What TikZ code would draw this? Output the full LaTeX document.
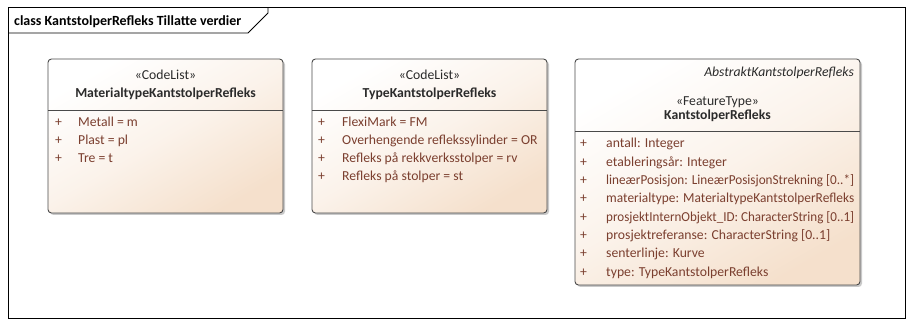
\documentclass[tikz,border=0pt]{standalone}
\usepackage{fontspec}
\usepackage{graphicx}
\setmainfont{Carlito}
\usetikzlibrary{shadows}
\definecolor{attrcol}{HTML}{7B3F2F}
\definecolor{namecol}{HTML}{2B2B2B}
\definecolor{peach}{HTML}{F5E0CC}
\definecolor{edgecol}{HTML}{4A4A4A}
% long attribute lines are squeezed to the width of the compartment
\newcommand\fitline[1]{\resizebox{248pt}{\height}{#1}}
\tikzset{
  classbox/.style={draw=edgecol, line width=0.9pt, rounded corners=3.5pt,
    top color=white, bottom color=peach, middle color=peach!40,
    shading angle=30,
    drop shadow={shadow xshift=2pt, shadow yshift=-2pt, fill=black!35, opacity=0.6}},
  sepline/.style={draw=edgecol, line width=0.8pt},
  txt/.style={inner sep=0pt, font=\fontsize{13.7}{15}\selectfont},
  attr/.style={txt, anchor=base west, text=attrcol},
  plus/.style={txt, anchor=base west, text=attrcol},
  stereo/.style={txt, anchor=base, text=namecol},
  cname/.style={txt, anchor=base, text=namecol, font=\fontsize{13.7}{15}\selectfont\bfseries},
}
\begin{document}
\begin{tikzpicture}[x=1pt, y=-1pt]
\useasboundingbox (0,0) rectangle (913,328);
\fill[white] (0,0) rectangle (913,328);

% diagram frame and title tab
\draw[line width=1pt] (8,8) rectangle (905,319);
\draw[line width=0.8pt] (8,33) -- (248,33) -- (268,13) -- (268,8);
\node[txt, anchor=base west, font=\fontsize{14}{15}\selectfont\bfseries] (title) at (14,26) {class KantstolperRefleks Tillatte verdier};

% ---------- MaterialtypeKantstolperRefleks ----------
\path[classbox] (48,59) rectangle (283,213);
\draw[sepline] (48,110) -- (283,110);
\node[stereo] (s1) at (165.5,80) {«CodeList»};
\node[cname] (n1) at (165.5,98) {MaterialtypeKantstolperRefleks};
\foreach \y/\t [count=\i] in {127/Metall = m, 145/Plast = pl, 163/Tre = t}{
  \node[plus] (p1\i) at (55,\y) {+};
  \node[attr] (a1\i) at (78,\y) {\t};
}

% ---------- TypeKantstolperRefleks ----------
\path[classbox] (312,59) rectangle (547,213);
\draw[sepline] (312,110) -- (547,110);
\node[stereo] (s2) at (429.5,80) {«CodeList»};
\node[cname] (n2) at (429.5,98) {TypeKantstolperRefleks};
\foreach \y/\t [count=\i] in {127/FlexiMark = FM, 145/Overhengende reflekssylinder = OR, 163/Refleks på rekkverksstolper = rv, 181/Refleks på stolper = st}{
  \node[plus] (p2\i) at (318,\y) {+};
  \node[attr] (a2\i) at (342,\y) {\t};
}

% ---------- KantstolperRefleks ----------
\path[classbox] (575,59) rectangle (860,285);
\draw[sepline] (575,131) -- (860,131);
\node[txt, anchor=base east, text=namecol, font=\fontsize{13.7}{15}\selectfont\itshape] (ab) at (854,77) {AbstraktKantstolperRefleks};
\node[stereo] (s3) at (717.5,106) {«FeatureType»};
\node[cname] (n3) at (717.5,120) {KantstolperRefleks};
\foreach \y/\t [count=\i] in {148/antall: Integer, 166.3/etableringsår: Integer, 184.6/{\fitline{lineærPosisjon: LineærPosisjonStrekning [0..*]}}, 202.9/{\fitline{materialtype: MaterialtypeKantstolperRefleks}}, 221.2/{\fitline{prosjektInternObjekt\_ID: CharacterString [0..1]}}, 239.5/prosjektreferanse: CharacterString [0..1], 257.8/senterlinje: Kurve, 276.1/type: TypeKantstolperRefleks}{
  \node[plus] (p3\i) at (580,\y) {+};
  \node[attr] (a3\i) at (606,\y) {\t};
}
\end{tikzpicture}
\end{document}
